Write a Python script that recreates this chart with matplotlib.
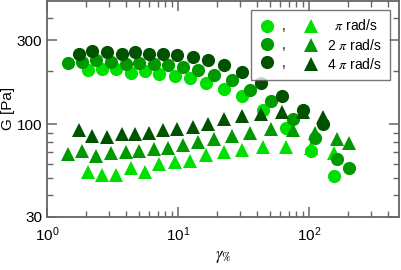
import numpy as np
import matplotlib
matplotlib.use('Agg')
import matplotlib.pyplot as plt
from matplotlib.ticker import FixedLocator, NullFormatter, LogLocator

plt.rcParams['font.family'] = ['Liberation Sans', 'DejaVu Sans']
plt.rcParams['mathtext.fontset'] = 'stix'

# strain amplitude (%) and modulus (Pa)
x_pi = [2.06, 2.63, 3.36, 4.38, 5.60, 7.16, 9.49, 12.35, 16.5, 22.4, 30.8, 44.6, 66.7, 103.6, 156]
gc_pi = [204, 206, 206, 196, 201, 194, 189, 184, 172, 159, 144, 121, 95, 70.5, 51]
gt_pi = [54, 52, 52, 57, 54, 60, 61, 62, 67, 70, 72, 75, 75, 74, 69]

x_2pi = [1.45, 1.85, 2.37, 3.08, 4.01, 5.04, 6.56, 8.39, 10.9, 14.2, 19.0, 25.8, 35.4, 51.3, 75.5, 112, 165, 202]
gc_2pi = [223, 226, 232, 226, 220, 223, 220, 217, 212, 204, 191, 179, 157, 135, 107, 84, 64, 57]
gt_2pi = [68, 70.5, 66, 69, 70, 70.5, 73, 74, 77, 80, 83, 86, 90, 94, 92.5, 89, 83, 79]

x_4pi = [1.75, 2.21, 2.87, 3.74, 4.70, 6.01, 7.68, 9.83, 13.0, 16.9, 22.4, 30.8, 43.4, 62.2, 90.0, 128]
gc_4pi = [250, 260, 257, 250, 257, 250, 250, 247, 241, 232, 217, 199, 172, 144, 121, 100]
gt_4pi = [92.5, 85.6, 84.5, 88, 88, 90, 92.5, 94, 97, 101, 107, 111, 115, 118, 117, 110]

labels = ['\u2007' + r'$\pi$ rad/s', r'2 $\pi$ rad/s', r'4 $\pi$ rad/s']
colors = ['#00e000', '#009a00', '#005200']

fig = plt.figure(figsize=(4.01, 2.70), dpi=100)
ax = fig.add_axes([0.1172, 0.1963, 0.8778, 0.8007])

series = [(x_pi, gc_pi, gt_pi), (x_2pi, gc_2pi, gt_2pi), (x_4pi, gc_4pi, gt_4pi)]
circ = []
tri = []
for (xs, gc, gt), c in zip(series, colors):
    h1, = ax.plot(xs, gc, 'o', color=c, ms=9.5, mew=0, ls='none')
    h2, = ax.plot(xs, gt, '^', color=c, ms=10, mew=0, ls='none')
    circ.append(h1)
    tri.append(h2)

ax.set_xscale('log')
ax.set_yscale('log')
ax.set_xlim(1, 487)
ax.set_ylim(30, 500)

ax.yaxis.set_major_locator(FixedLocator([30, 100, 300]))
ax.yaxis.set_minor_locator(FixedLocator([40, 50, 60, 70, 80, 90, 200, 400]))
ax.set_yticklabels(['30', '100', '300'])
ax.yaxis.set_minor_formatter(NullFormatter())
ax.xaxis.set_major_locator(LogLocator(base=10, numticks=10))
ax.xaxis.set_minor_locator(LogLocator(base=10, subs=np.arange(2, 10), numticks=10))
ax.xaxis.set_minor_formatter(NullFormatter())

ax.tick_params(which='both', direction='in', top=True, right=True, color='#666666', labelsize=11)
ax.tick_params(which='major', length=7, width=1.1)
ax.tick_params(which='minor', length=4.5, width=1.0)
ax.tick_params(axis='x', pad=6)
for s in ax.spines.values():
    s.set_color('#666666')
    s.set_linewidth(1.3)

ax.set_xlabel(r'$\gamma_{\%}$', fontsize=12, labelpad=4)
ax.set_ylabel('G [Pa]', fontsize=11, labelpad=1)

leg_labels = [',', ',', ','] + labels
leg = ax.legend(circ + tri, leg_labels, ncol=2, loc='upper right',
                bbox_to_anchor=(0.974, 0.957), fontsize=10, frameon=True,
                fancybox=False, edgecolor='#555555', handlelength=1.1,
                handletextpad=0.58, columnspacing=1.26, borderpad=0.6,
                labelspacing=0.3, borderaxespad=0)
leg.get_frame().set_linewidth(1.0)

fig.savefig('out.png', dpi=100)
